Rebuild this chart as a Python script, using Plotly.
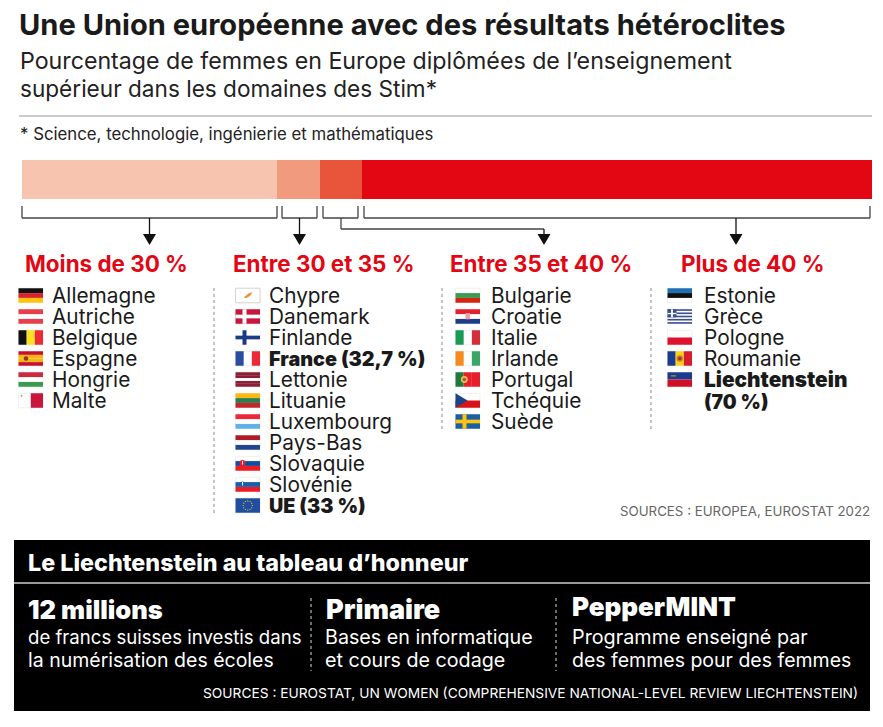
import math
import plotly.graph_objects as go

W, H = 883, 727
FONT = "Inter"

# ---------- data ----------
band_labels = ["Moins de 30 %", "Entre 30 et 35 %", "Entre 35 et 40 %", "Plus de 40 %"]
band_widths = [30, 5, 5, 60]
band_colors = ["#f7c4b0", "#f29a7d", "#e9553a", "#e30613"]
countries_low = ["Allemagne", "Autriche", "Belgique", "Espagne", "Hongrie", "Malte"]
countries_mid = ["Chypre", "Danemark", "Finlande", "France (32,7 %)", "Lettonie", "Lituanie",
                 "Luxembourg", "Pays-Bas", "Slovaquie", "Slovénie", "UE (33 %)"]
countries_high = ["Bulgarie", "Croatie", "Italie", "Irlande", "Portugal", "Tchéquie", "Suède"]
countries_top = ["Estonie", "Grèce", "Pologne", "Roumanie", "Liechtenstein"]
highlighted = ["France (32,7 %)", "UE (33 %)", "Liechtenstein"]

# ---------- pixel helpers ----------
shapes, notes = [], []
def px(x): return x / W
def py(y): return 1 - y / H

def rect(x0, y0, x1, y1, fill, line=None, lw=0):
    shapes.append(dict(type="rect", xref="paper", yref="paper", x0=px(x0), x1=px(x1),
                       y0=py(y1), y1=py(y0), fillcolor=fill, layer="above",
                       line=dict(color=line or fill, width=lw)))

def seg(x0, y0, x1, y1, color="#444444", lw=1.3, dash="solid"):
    shapes.append(dict(type="line", xref="paper", yref="paper", x0=px(x0), x1=px(x1),
                       y0=py(y0), y1=py(y1), layer="above",
                       line=dict(color=color, width=lw, dash=dash)))

def circle(cx, cy, r, fill):
    shapes.append(dict(type="circle", xref="paper", yref="paper", x0=px(cx - r), x1=px(cx + r),
                       y0=py(cy + r), y1=py(cy - r), fillcolor=fill, layer="above",
                       line=dict(width=0, color=fill)))

def poly(points, fill):
    path = "M " + " L ".join(f"{px(a):.5f} {py(b):.5f}" for a, b in points) + " Z"
    shapes.append(dict(type="path", xref="paper", yref="paper", path=path, fillcolor=fill,
                       layer="above", line=dict(width=0, color=fill)))

def text(x, y, s, size, color="#1a1a1a", weight=400, anchor="left"):
    notes.append(dict(xref="paper", yref="paper", x=px(x), y=py(y), text=s, showarrow=False,
                      xanchor=anchor, yanchor="middle", borderpad=0, borderwidth=0,
                      font=dict(family=FONT, size=size, color=color, weight=weight)))

# ---------- flags ----------
FW, FH = 24.5, 14.5
H_FLAGS = {
    "Allemagne": ["#111111", "#d8232a", "#fcc410"],
    "Autriche": ["#e8404a", "#ffffff", "#e8404a"],
    "Hongrie": ["#cd2a3e", "#ffffff", "#3a9b50"],
    "Espagne": ["#c8102e", "#f6b512", "#f6b512", "#c8102e"],
    "Lettonie": ["#8a1f35", "#8a1f35", "#ffffff", "#8a1f35", "#8a1f35"],
    "Lituanie": ["#fdb913", "#2e7d4f", "#c1272d"],
    "Luxembourg": ["#ed2939", "#ffffff", "#5bb4e5"],
    "Pays-Bas": ["#ae1c28", "#ffffff", "#21468b"],
    "Slovaquie": ["#ffffff", "#0b4ea2", "#ee1c25"],
    "Slovénie": ["#ffffff", "#1560ad", "#ed1c24"],
    "Bulgarie": ["#ffffff", "#3a9b52", "#d62612"],
    "Croatie": ["#e4202c", "#ffffff", "#1c3e87"],
    "Tchéquie": ["#ffffff", "#d7141a"],
    "Estonie": ["#1f6fb5", "#111111", "#ffffff"],
    "Pologne": ["#ffffff", "#e0102f"],
    "Liechtenstein": ["#1c3b8f", "#ce1126"],
    "Grèce": ["#3a4f90", "#ffffff", "#3a4f90", "#ffffff", "#3a4f90", "#ffffff", "#3a4f90", "#ffffff", "#3a4f90"],
}
V_FLAGS = {
    "Belgique": ["#111111", "#fde020", "#ee2b35"],
    "Malte": ["#ffffff", "#c8163c"],
    "France (32,7 %)": ["#2a4da0", "#ffffff", "#ed2939"],
    "Italie": ["#1a9a55", "#ffffff", "#d22f3a"],
    "Irlande": ["#f58a1f", "#ffffff", "#3aa565"],
    "Roumanie": ["#1a3c8c", "#fcd116", "#d61f2c"],
    "Portugal": ["#1f7a3e", "#e5202a", "#e5202a"],
}
SOLID = {"Chypre": "#ffffff", "Danemark": "#c8163c", "Finlande": "#ffffff",
         "UE (33 %)": "#1f4ea1", "Suède": "#1a5fa0"}
CROSS = {"Danemark": "#ffffff", "Finlande": "#1a3a85", "Suède": "#fcc410"}

def flag(name, x, yc):
    y = yc - FH / 2
    rect(x, y, x + FW, y + FH, "#ffffff", "#ececec", 0.8)
    if name in H_FLAGS:
        c = H_FLAGS[name]; h = FH / len(c)
        for i, col in enumerate(c):
            if col != "#ffffff":
                rect(x, y + i * h, x + FW, y + (i + 1) * h, col)
    if name in V_FLAGS:
        c = V_FLAGS[name]; w = FW / len(c)
        for i, col in enumerate(c):
            if col != "#ffffff":
                rect(x + i * w, y, x + (i + 1) * w, y + FH, col)
    if name in SOLID:
        rect(x, y, x + FW, y + FH, SOLID[name], "#cccccc" if name == "Chypre" else SOLID[name], 0.8 if name == "Chypre" else 0)
    if name in CROSS:
        rect(x + 7, y, x + 11, y + FH, CROSS[name])
        rect(x, y + 5.4, x + FW, y + 9.1, CROSS[name])
    if name == "Chypre":
        poly([(x + 8, yc + 2), (x + 13, yc - 2), (x + 17, yc - 3.5), (x + 15, yc), (x + 11, yc + 2.5)], "#e8913a")
    if name == "Espagne":
        circle(x + 7.5, yc, 2.3, "#8a3a20")
    if name == "Malte":
        circle(x + 3, y + 2.5, 0.9, "#999999")
    if name in ("Slovaquie", "Slovénie"):
        circle(x + 7, yc - 0.6, 3 if name == "Slovaquie" else 2.3, "#ee1c25" if name == "Slovaquie" else "#1560ad")
        rect(x + 6.5, yc - 2.5, x + 7.5, yc + 1, "#ffffff")
    if name == "Croatie":
        rect(x + 10, yc - 3.5, x + 14.5, yc + 2.8, "#e9a0a5")
    if name == "Portugal":
        circle(x + FW * 0.36, yc, 3.4, "#e8c24a")
        circle(x + FW * 0.36, yc, 1.8, "#b5533c")
    if name == "Tchéquie":
        poly([(x, y), (x + 12, yc), (x, y + FH)], "#1c4587")
    if name == "Grèce":
        rect(x, y, x + 9, y + FH * 5 / 9, "#3a4f90")
        rect(x + 3.6, y, x + 5.4, y + FH * 5 / 9, "#ffffff")
        rect(x, y + 3.2 * FH / 9 - 1.5, x + 9, y + 3.2 * FH / 9 - 0.2, "#ffffff")
    if name == "Roumanie":
        circle(x + FW / 2, yc, 3.2, "#c8792a")
        circle(x + FW / 2, yc, 1.5, "#a02a20")
    if name == "Liechtenstein":
        rect(x + 3.5, yc - 4.5, x + 8.5, yc - 2.8, "#8a7a45")
    if name == "UE (33 %)":
        for k in range(12):
            a = k * math.pi / 6
            circle(x + FW / 2 + 4.6 * math.cos(a), yc + 4.6 * math.sin(a), 0.6, "#fcd116")

# ---------- titles ----------
text(19, 25, "Une Union européenne avec des résultats hétéroclites", 29.1, "#1a1a1a", 700)
text(20, 61, "Pourcentage de femmes en Europe diplômées de l’enseignement", 23.2, "#222222")
text(20, 88, "supérieur dans les domaines des Stim*", 22.6, "#222222")
seg(19, 116, 872, 116, "#999999", 1)
text(20, 134, "* Science, technologie, ingénierie et mathématiques", 16.8, "#222222")

# ---------- brackets and arrows ----------
for a, b in [(22, 277), (282, 317), (323, 358), (364, 870)]:
    seg(a, 206, a, 218); seg(a, 218, b, 218); seg(b, 206, b, 218)

def arrow(x, y0):
    seg(x, y0, x, 236, "#111111", 1.3)
    poly([(x - 6.5, 234), (x + 6.5, 234), (x, 245)], "#111111")

arrow(149.5, 218)
arrow(299.5, 218)
arrow(736, 218)
seg(341, 218, 341, 229); seg(341, 229, 544, 229)
arrow(544, 229)

# ---------- columns ----------
head_x = [106, 323, 541, 752]
flag_x = [18.5, 235.5, 455.5, 667.5]
name_x = [52, 269, 491, 704]
groups = [countries_low, countries_mid, countries_high, countries_top]
for label, hx, fx, nx, group in zip(band_labels, head_x, flag_x, name_x, groups):
    text(hx, 263.5, label, 22.4, "#e30613", 700, "center")
    for i, c in enumerate(group):
        yc = 295.5 + 21 * i
        flag(c, fx, yc)
        if c in highlighted:
            text(nx, yc, c, 20.8 if c == "Liechtenstein" else 19.8, "#1a1a1a", 900)
        else:
            text(nx, yc, c, 20.8, "#1a1a1a", 400)
text(704, 402, "(70 %)", 19.5, "#1a1a1a", 900)

for x, y1 in [(214, 513), (442, 430), (651, 430)]:
    seg(x, 288, x, y1, "#888888", 1, "dot")

text(870, 511, "SOURCES : EUROPEA, EUROSTAT 2022", 13.3, "#666666", 400, "right")

# ---------- black panel ----------
rect(14, 540, 870, 711, "#000000")
seg(14, 583, 870, 583, "#cccccc", 1.3)
text(28, 562, "Le Liechtenstein au tableau d’honneur", 23.3, "#ffffff", 800)
text(28, 609, "12 millions", 25.5, "#ffffff", 900)
text(326, 609, "Primaire", 27, "#ffffff", 900)
text(572, 606, "PepperMINT", 26, "#ffffff", 900)
text(28, 637, "de francs suisses investis dans", 18.6, "#ffffff")
text(28, 660, "la numérisation des écoles", 19.5, "#ffffff")
text(325, 637, "Bases en informatique", 19.7, "#ffffff")
text(325, 660, "et cours de codage", 19.7, "#ffffff")
text(572, 637, "Programme enseigné par", 19.8, "#ffffff")
text(572, 660, "des femmes pour des femmes", 19.5, "#ffffff")
text(858, 693, "SOURCES : EUROSTAT, UN WOMEN (COMPREHENSIVE NATIONAL-LEVEL REVIEW LIECHTENSTEIN)", 13.75, "#ffffff", 400, "right")
for x in (311, 556):
    seg(x, 598, x, 671, "#dddddd", 1, "dot")

# ---------- figure ----------
fig = go.Figure()
for label, w, col in zip(band_labels, band_widths, band_colors):
    fig.add_trace(go.Bar(x=[w], y=[0], orientation="h", width=1, name=label,
                         marker=dict(color=col, line=dict(width=0)), showlegend=False))
fig.update_layout(
    width=W, height=H, margin=dict(l=0, r=0, t=0, b=0), barmode="stack",
    paper_bgcolor="#ffffff", plot_bgcolor="#ffffff", font=dict(family=FONT),
    xaxis=dict(domain=[22 / W, 872 / W], range=[0, 100], visible=False, fixedrange=True),
    yaxis=dict(domain=[1 - 199 / H, 1 - 160 / H], range=[-0.5, 0.5], visible=False, fixedrange=True),
    shapes=shapes, annotations=notes,
)
fig.write_html("out.html", config=dict(displayModeBar=False),
               post_script="document.body.style.margin='0';")
